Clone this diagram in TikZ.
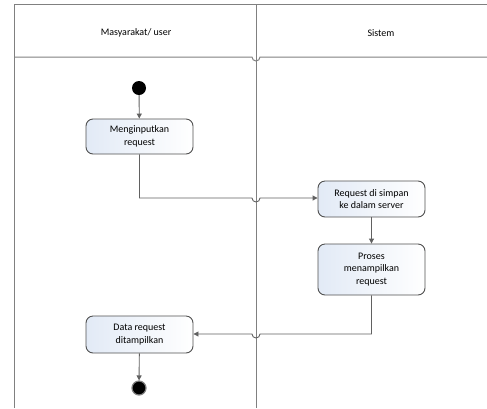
\documentclass[tikz,border=0pt]{standalone}
\usepackage{fontspec}
\setmainfont{Carlito}
\usetikzlibrary{arrows.meta,calc}
\definecolor{lanegray}{RGB}{128,128,128}
\definecolor{boxedge}{RGB}{80,80,80}
\definecolor{boxblue}{RGB}{226,234,246}
\tikzset{
  act/.style={draw=boxedge, line width=0.9pt, rounded corners=7pt, left color=boxblue, right color=white,
    minimum width=107pt, align=center, font=\fontsize{10}{12.5}\selectfont, inner sep=2pt},
  flow/.style={draw=boxedge!90, line width=0.9pt, -{Triangle[length=5pt,width=5pt]}},
  lane/.style={draw=lanegray, line width=1pt},
  lbl/.style={font=\fontsize{10}{12}\selectfont},
}
\begin{document}
\begin{tikzpicture}[x=1pt,y=-1pt]
\useasboundingbox (0,0) rectangle (487,408);
% swimlanes
\draw[lane] (14,408) -- (14,4) -- (487,4);
\draw[lane] (256,4) -- (256,408);
\draw[lane] (14,57) -- (252,57) arc[start angle=180,end angle=0,radius=4] -- (487,57);
\node[lbl] (h1) at (136,33) {Masyarakat/ user};
\node[lbl] (h2) at (381,33) {Sistem};
% nodes
\node[circle, fill=black, minimum size=14pt, inner sep=0pt] (start) at (139,88) {};
\node[act, minimum height=35pt] (b1) at (139.5,136.5) {Menginputkan\\request};
\node[act, minimum height=36pt] (b2) at (371.5,199) {Request di simpan\\ke dalam server};
\node[act, minimum height=51pt] (b3) at (371.5,269.5) {Proses\\menampilkan\\request};
\node[act, minimum height=37pt] (b4) at (139.5,334.5) {Data request\\ditampilkan};
\node[circle, fill=black, draw=lanegray, line width=1.2pt, minimum size=14pt, inner sep=0pt] (stop) at (139,388) {};
\coordinate (hopA) at (256,198);
\coordinate (hopB) at (256,334);
% connectors
\draw[flow] (start) -- (b1);
\draw[flow] (b1.south) |- ([xshift=-4pt]hopA) arc[start angle=180,end angle=0,radius=4] -- (b2.west |- hopA);
\draw[flow] (b2) -- (b3);
\draw[flow] (b3.south) |- ([xshift=4pt]hopB) arc[start angle=0,end angle=180,radius=4] -- (b4.east |- hopB);
\draw[flow] (b4) -- (stop);
\end{tikzpicture}
\end{document}
